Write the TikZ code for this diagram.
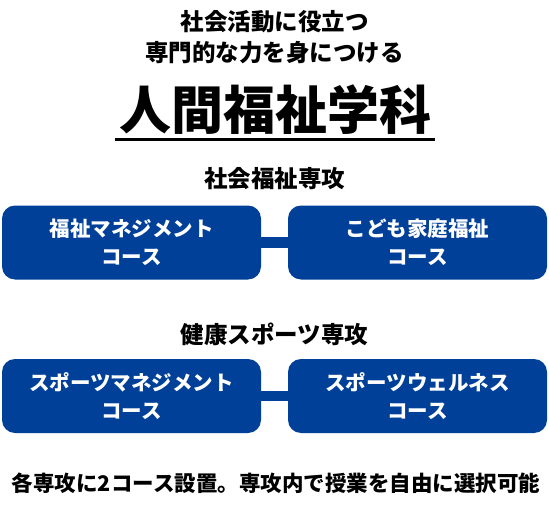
\documentclass[tikz,border=0pt]{standalone}
\usepackage{fontspec}
\newfontfamily\jp{Noto Sans CJK JP}
\definecolor{boxblue}{RGB}{0,64,152}
\begin{document}
\begin{tikzpicture}[x=1pt,y=-1pt,
  course/.style={fill=boxblue,rounded corners=13pt,minimum width=259pt,minimum height=74pt,
    inner sep=0pt,text=white,align=center,font=\jp\bfseries\fontsize{20.5}{27.5}\selectfont},
  head/.style={inner sep=0pt,font=\jp\bfseries\fontsize{23.5}{31}\selectfont},
  link/.style={boxblue,line width=10.5pt}]
\useasboundingbox (0,0) rectangle (549,508);
\node[head,align=center] (sub) at (274.5,37) {社会活動に役立つ\\専門的な力を身につける};
\node[inner sep=0pt,font=\jp\bfseries\fontsize{52}{60}\selectfont] (title) at (275,110) {人間福祉学科};
\coordinate (ulA) at (115,140);
\coordinate (ulB) at (435,140);
\draw[line width=3pt] (ulA) -- (ulB);
\node[head] (sec1) at (274.5,179) {社会福祉専攻};
\node[course] (c1) at (131.5,242.5) {福祉マネジメント\\コース};
\node[course] (c2) at (417.5,242.5) {こども家庭福祉\\コース};
\draw[link] (c1.east) -- (c2.west);
\node[head] (sec2) at (274.5,334) {健康スポーツ専攻};
\node[course] (c3) at (131.5,396) {スポーツマネジメント\\コース};
\node[course] (c4) at (417.5,396) {スポーツウェルネス\\コース};
\draw[link] (c3.east) -- (c4.west);
\node[head,font=\jp\bfseries\fontsize{21.5}{26}\selectfont] (note) at (276,483) {各専攻に2コース設置。専攻内で授業を自由に選択可能};
\end{tikzpicture}
\end{document}
